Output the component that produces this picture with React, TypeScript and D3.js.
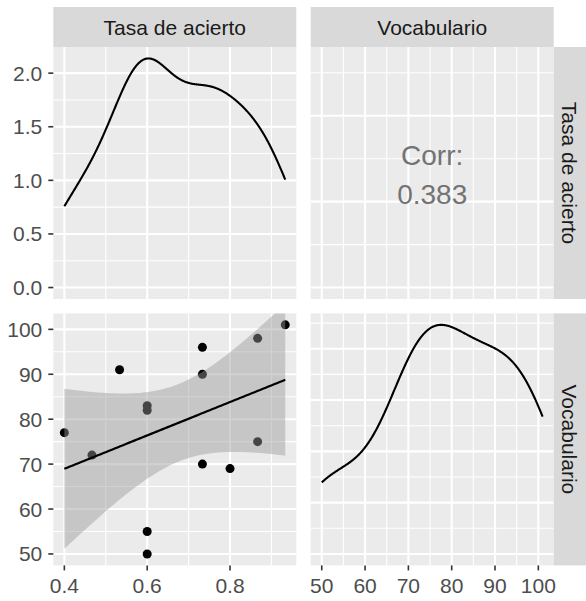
import React from 'react';
import * as d3 from 'd3';

// ---- data ----
const varNames = ['Tasa de acierto', 'Vocabulario'];
const tasaDeAcierto = [0.4, 0.466667, 0.533333, 0.6, 0.6, 0.6, 0.6, 0.733333, 0.733333, 0.733333, 0.8, 0.866667, 0.866667, 0.933333];
const vocabulario = [77, 72, 91, 83, 82, 55, 50, 96, 90, 70, 69, 98, 75, 101];
const tasaTicks = [0.4, 0.6, 0.8];
const tasaTickLabels = ['0.4', '0.6', '0.8'];
const vocabTicks = [50, 60, 70, 80, 90, 100];
const vocabTickLabels = ['50', '60', '70', '80', '90', '100'];
const densTicks = [0, 0.5, 1, 1.5, 2];
const densTickLabels = ['0.0', '0.5', '1.0', '1.5', '2.0'];
const corrTitle = 'Corr:';
const T_975_DF12 = 2.178813;

// ---- layout ----
const W = 586, H = 601;
const colX = [53.3, 310.7];
const PW = 243;
const rowY = [47, 313.4];
const PH = 252;
const STRIP_TOP = 7;
const STRIP_H = 40;
const RSTRIP_X = colX[1] + PW;
const RSTRIP_W = W - RSTRIP_X;
const FONT = '"Liberation Sans", Arial, Helvetica, sans-serif';
const FS = 21;

function expand(lo: number, hi: number): [number, number] {
  const r = hi - lo;
  return [lo - 0.05 * r, hi + 0.05 * r];
}

function kde(values: number[], n = 512) {
  const s = [...values].sort((a, b) => a - b);
  const sd = d3.deviation(s) as number;
  const iqr = (d3.quantileSorted(s, 0.75) as number) - (d3.quantileSorted(s, 0.25) as number);
  const lo = Math.min(sd, iqr / 1.34);
  const bw = 0.9 * lo * Math.pow(s.length, -0.2);
  const mn = s[0], mx = s[s.length - 1];
  const out: [number, number][] = [];
  for (let i = 0; i < n; i++) {
    const x = mn + ((mx - mn) * i) / (n - 1);
    let sum = 0;
    for (const v of s) {
      const z = (x - v) / bw;
      sum += Math.exp(-0.5 * z * z) / Math.sqrt(2 * Math.PI);
    }
    out.push([x, sum / (s.length * bw)]);
  }
  return out;
}

function minors(majors: number[], domain: [number, number]) {
  const step = majors[1] - majors[0];
  const res: number[] = [];
  for (let v = majors[0] - step / 2; v <= majors[majors.length - 1] + step / 2 + 1e-9; v += step) {
    if (v >= domain[0] && v <= domain[1]) res.push(v);
  }
  return res;
}

function majorsIn(majors: number[], domain: [number, number]) {
  return majors.filter((v) => v >= domain[0] && v <= domain[1]);
}

export default function App() {
  const tDom = expand(d3.min(tasaDeAcierto)!, d3.max(tasaDeAcierto)!);
  const vDom = expand(d3.min(vocabulario)!, d3.max(vocabulario)!);

  const xT = d3.scaleLinear().domain(tDom).range([colX[0], colX[0] + PW]);
  const xV = d3.scaleLinear().domain(vDom).range([colX[1], colX[1] + PW]);
  const yT = d3.scaleLinear().domain(tDom).range([rowY[0] + PH, rowY[0]]);
  const yV = d3.scaleLinear().domain(vDom).range([rowY[1] + PH, rowY[1]]);

  const densT = kde(tasaDeAcierto);
  const densV = kde(vocabulario);
  const dTDom = expand(0, d3.max(densT, (d) => d[1])!);
  const dVDom = expand(0, d3.max(densV, (d) => d[1])!);
  const yDT = d3.scaleLinear().domain(dTDom).range([rowY[0] + PH, rowY[0]]);
  const yDV = d3.scaleLinear().domain(dVDom).range([rowY[1] + PH, rowY[1]]);
  const dvTicks = yDV.ticks(5);

  // regression
  const n = tasaDeAcierto.length;
  const mx = d3.mean(tasaDeAcierto)!;
  const my = d3.mean(vocabulario)!;
  let sxx = 0, sxy = 0, syy = 0;
  for (let i = 0; i < n; i++) {
    sxx += (tasaDeAcierto[i] - mx) ** 2;
    sxy += (tasaDeAcierto[i] - mx) * (vocabulario[i] - my);
    syy += (vocabulario[i] - my) ** 2;
  }
  const slope = sxy / sxx;
  const icpt = my - slope * mx;
  let rss = 0;
  for (let i = 0; i < n; i++) rss += (vocabulario[i] - (icpt + slope * tasaDeAcierto[i])) ** 2;
  const sres = Math.sqrt(rss / (n - 2));
  const corr = sxy / Math.sqrt(sxx * syy);

  const tMin = d3.min(tasaDeAcierto)!, tMax = d3.max(tasaDeAcierto)!;
  const fitX = d3.range(80).map((i) => tMin + ((tMax - tMin) * i) / 79);
  const fit = fitX.map((x) => {
    const yh = icpt + slope * x;
    const se = sres * Math.sqrt(1 / n + (x - mx) ** 2 / sxx);
    return { x, y: yh, lo: yh - T_975_DF12 * se, hi: yh + T_975_DF12 * se };
  });

  const area = d3.area<any>().x((d) => xT(d.x)).y0((d) => yV(d.lo)).y1((d) => yV(d.hi));
  const fitLine = d3.line<any>().x((d) => xT(d.x)).y((d) => yV(d.y));
  const lineDT = d3.line<[number, number]>().x((d) => xT(d[0])).y((d) => yDT(d[1]));
  const lineDV = d3.line<[number, number]>().x((d) => xV(d[0])).y((d) => yDV(d[1]));

  const grid = (
    key: string,
    x0: number,
    y0: number,
    xs: d3.ScaleLinear<number, number>,
    xMaj: number[],
    ys: d3.ScaleLinear<number, number>,
    yMaj: number[]
  ) => {
    const xd = xs.domain() as [number, number];
    const yd = ys.domain() as [number, number];
    return (
      <g key={key}>
        <rect x={x0} y={y0} width={PW} height={PH} fill="#EBEBEB" />
        {minors(yMaj, yd).map((v, i) => (
          <line key={'ym' + i} x1={x0} x2={x0 + PW} y1={ys(v)} y2={ys(v)} stroke="#fff" strokeWidth={1.1} />
        ))}
        {minors(xMaj, xd).map((v, i) => (
          <line key={'xm' + i} x1={xs(v)} x2={xs(v)} y1={y0} y2={y0 + PH} stroke="#fff" strokeWidth={1.1} />
        ))}
        {majorsIn(yMaj, yd).map((v, i) => (
          <line key={'yM' + i} x1={x0} x2={x0 + PW} y1={ys(v)} y2={ys(v)} stroke="#fff" strokeWidth={2.1} />
        ))}
        {majorsIn(xMaj, xd).map((v, i) => (
          <line key={'xM' + i} x1={xs(v)} x2={xs(v)} y1={y0} y2={y0 + PH} stroke="#fff" strokeWidth={2.1} />
        ))}
      </g>
    );
  };

  const capOff = FS * 0.358;

  return (
    <svg
      width={W}
      height={H}
      viewBox={`0 0 ${W} ${H}`}
      style={{ position: 'absolute', left: 0, top: 0, background: '#fff' }}
      fontFamily={FONT}
    >
      <defs>
        <clipPath id="clipBL">
          <rect x={colX[0]} y={rowY[1]} width={PW} height={PH} />
        </clipPath>
      </defs>
      <rect x={0} y={0} width={W} height={H} fill="#fff" />

      {/* panels */}
      {grid('tl', colX[0], rowY[0], xT, tasaTicks, yDT, densTicks)}
      {grid('tr', colX[1], rowY[0], xV, vocabTicks, yT, tasaTicks)}
      {grid('bl', colX[0], rowY[1], xT, tasaTicks, yV, vocabTicks)}
      {grid('br', colX[1], rowY[1], xV, vocabTicks, yDV, dvTicks)}

      {/* top-left density */}
      <path d={lineDT(densT)!} fill="none" stroke="#000" strokeWidth={2.1} />

      {/* top-right correlation */}
      <text x={colX[1] + PW / 2} y={165} textAnchor="middle" fontSize={28} fill="#737373">
        {corrTitle}
      </text>
      <text x={colX[1] + PW / 2} y={204} textAnchor="middle" fontSize={28} fill="#737373">
        {corr.toFixed(3)}
      </text>

      {/* bottom-left scatter + smooth */}
      <g clipPath="url(#clipBL)">
        {tasaDeAcierto.map((t, i) => (
          <circle key={i} cx={xT(t)} cy={yV(vocabulario[i])} r={4.5} fill="#000" />
        ))}
        <path d={area(fit)!} fill="#999999" fillOpacity={0.45} />
        <path d={fitLine(fit)!} fill="none" stroke="#000" strokeWidth={2.2} />
      </g>

      {/* bottom-right density */}
      <path d={lineDV(densV)!} fill="none" stroke="#000" strokeWidth={2.1} />

      {/* top strips */}
      {varNames.map((nm, i) => (
        <g key={'ts' + i}>
          <rect x={colX[i]} y={STRIP_TOP} width={PW} height={STRIP_H} fill="#D9D9D9" />
          <text x={colX[i] + PW / 2} y={STRIP_TOP + STRIP_H / 2 + capOff} textAnchor="middle" fontSize={FS} fill="#1A1A1A">
            {nm}
          </text>
        </g>
      ))}
      {/* right strips */}
      {varNames.map((nm, i) => {
        const cx = RSTRIP_X + RSTRIP_W / 2;
        const cy = rowY[i] + PH / 2;
        return (
          <g key={'rs' + i}>
            <rect x={RSTRIP_X} y={rowY[i]} width={RSTRIP_W} height={PH} fill="#D9D9D9" />
            <text
              x={0}
              y={capOff}
              textAnchor="middle"
              fontSize={FS}
              fill="#1A1A1A"
              transform={`translate(${cx},${cy}) rotate(90)`}
            >
              {nm}
            </text>
          </g>
        );
      })}

      {/* left axes */}
      {densTicks.map((v, i) => (
        <g key={'ld' + i}>
          <line x1={colX[0] - 5} x2={colX[0]} y1={yDT(v)} y2={yDT(v)} stroke="#333" strokeWidth={1.6} />
          <text x={colX[0] - 11} y={yDT(v) + capOff} textAnchor="end" fontSize={FS} fill="#4D4D4D">
            {densTickLabels[i]}
          </text>
        </g>
      ))}
      {vocabTicks.map((v, i) => (
        <g key={'lv' + i}>
          <line x1={colX[0] - 5} x2={colX[0]} y1={yV(v)} y2={yV(v)} stroke="#333" strokeWidth={1.6} />
          <text x={colX[0] - 11} y={yV(v) + capOff} textAnchor="end" fontSize={FS} fill="#4D4D4D">
            {vocabTickLabels[i]}
          </text>
        </g>
      ))}

      {/* bottom axes */}
      {tasaTicks.map((v, i) => (
        <g key={'bt' + i}>
          <line x1={xT(v)} x2={xT(v)} y1={rowY[1] + PH} y2={rowY[1] + PH + 5} stroke="#333" strokeWidth={1.6} />
          <text x={xT(v)} y={593} textAnchor="middle" fontSize={FS} fill="#4D4D4D">
            {tasaTickLabels[i]}
          </text>
        </g>
      ))}
      {vocabTicks.map((v, i) => (
        <g key={'bv' + i}>
          <line x1={xV(v)} x2={xV(v)} y1={rowY[1] + PH} y2={rowY[1] + PH + 5} stroke="#333" strokeWidth={1.6} />
          <text x={xV(v)} y={593} textAnchor="middle" fontSize={FS} fill="#4D4D4D">
            {vocabTickLabels[i]}
          </text>
        </g>
      ))}
    </svg>
  );
}
